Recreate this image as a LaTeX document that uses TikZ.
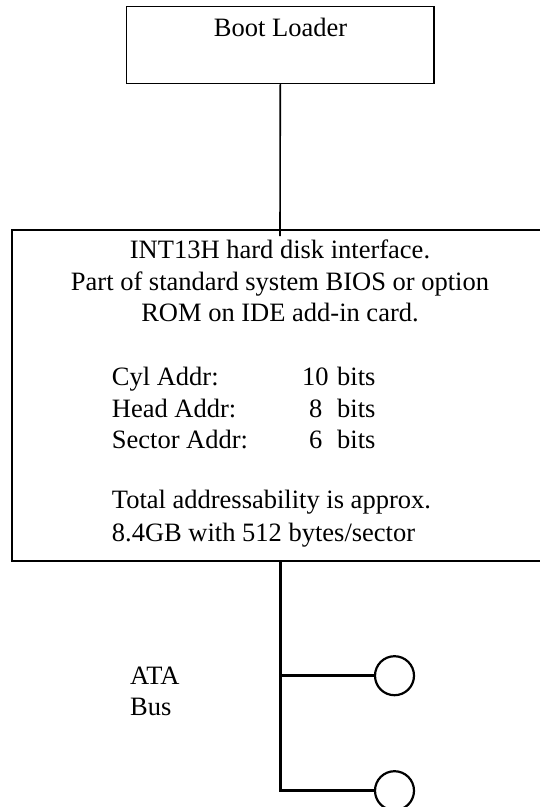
\documentclass[tikz,border=0pt]{standalone}
\usepackage{fontspec}
\setmainfont{Liberation Serif}
\usetikzlibrary{calc}
\begin{document}
\begin{tikzpicture}[x=1pt,y=-1pt,
  box/.style={draw,line width=1.6pt,rectangle,inner sep=0pt},
  txt/.style={inner sep=0pt,font=\fontsize{26.5}{31.5}\selectfont},
  link/.style={line width=1.6pt},
  bus/.style={line width=3pt,line join=miter},
  disk/.style={draw,circle,line width=2.2pt,minimum size=39pt,inner sep=0pt}]
\useasboundingbox[fill=white] (0,0) rectangle (540,807);
% boxes
\node[box,minimum width=307.5pt,minimum height=76.7pt] (boot) at (280.3,45) {};
\node[box,minimum width=536pt,minimum height=331pt] (bios) at (280,395.5) {};
% boot text
\node[txt,anchor=base] (bootlbl) at (280.5,36) {Boot Loader};
% bios text
\node[txt,anchor=base] (l1) at (280,258.3) {INT13H hard disk interface.};
\node[txt,anchor=base] (l2) at (280,290) {Part of standard system BIOS or option};
\node[txt,anchor=base] (l3) at (280,321.5) {ROM on IDE add-in card.};
\node[txt,anchor=base west] (c1) at (111.7,385) {Cyl Addr:};
\node[txt,anchor=base west] (c2) at (111.7,417) {Head Addr:};
\node[txt,anchor=base west] (c3) at (111.7,448.5) {Sector Addr:};
\node[txt,anchor=base west] (n1) at (302,385) {10};
\node[txt,anchor=base west] (n2) at (309,417) {8};
\node[txt,anchor=base west] (n3) at (309,448.5) {6};
\node[txt,anchor=base west] (b1) at (337,385) {bits};
\node[txt,anchor=base west] (b2) at (337,417) {bits};
\node[txt,anchor=base west] (b3) at (337,448.5) {bits};
\node[txt,anchor=base west] (t1) at (111.7,508.3) {Total addressability is approx.};
\node[txt,anchor=base west] (t2) at (111.7,541.7) {8.4GB with 512 bytes/sector};
% ATA bus label
\node[txt,anchor=base west] (ata) at (130,684) {ATA};
\node[txt,anchor=base west] (buslbl) at (130,715) {Bus};
% disks
\node[disk] (d1) at (394.5,675.7) {};
\node[disk] (d2) at (394.5,790.7) {};
% connectors
\coordinate (join) at ($(bios.north)+(0,7)$);
\draw[link] (boot.south) -- (join);
\draw[bus] (bios.south) |- (d2.west);
\draw[bus] (bios.south |- d1.west) -- (d1.west);
\end{tikzpicture}
\end{document}
